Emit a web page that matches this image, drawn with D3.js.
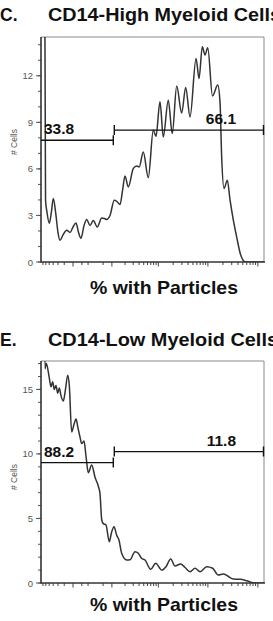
<!DOCTYPE html>
<html>
<head>
<meta charset="utf-8">
<script src="https://cdn.jsdelivr.net/npm/d3@7"></script>
<style>
  body { margin: 0; background: #fff; }
  svg { display: block; font-family: "Liberation Sans", Arial, sans-serif; }
</style>
</head>
<body>
<svg id="chart" width="273" height="621"></svg>
<script>
// Histogram data: display channel (0-256) and # cells
const highChannel = [0, 2.9, 5.2, 6.9, 9.5, 12.1, 14.1, 17.2, 19.5, 21.8, 25.3, 29.5, 33.3, 36.7, 40.2, 43.1, 45.9, 49.4, 52.5, 56.3, 60.0, 64.6, 69.7, 72.9, 75.4, 79.2, 84.1, 87.2, 90.7, 93.6, 96.4, 100.2, 106.0, 109.9, 112.8, 117.4, 123.2, 128.9, 132.0, 136.6, 140.4, 146.1, 150.7, 155.8, 161.5, 166.1, 171.1, 178.0, 181.4, 185.2, 188.3, 191.4, 196.9, 202.9, 205.5, 207.4, 210.1, 213.9, 217.0, 220.8, 225.4, 228.5, 232.2, 235.3, 256];
const highCells   = [40, 40, 4.0, 3.2, 2.5, 3.3, 4.1, 3.0, 1.9, 1.4, 1.75, 2.05, 1.9, 2.25, 2.52, 1.9, 1.53, 2.35, 2.74, 2.35, 2.67, 2.26, 2.84, 2.8, 2.74, 3.0, 3.98, 3.9, 3.7, 4.6, 5.55, 4.84, 6.03, 6.18, 6.13, 7.09, 5.44, 8.5, 8.1, 10.32, 8.06, 10.43, 8.28, 11.34, 9.6, 11.25, 9.35, 13.12, 11.83, 13.87, 13.34, 13.8, 10.7, 11.4, 10.3, 6.77, 4.74, 5.27, 4.0, 2.7, 1.4, 0.6, 0.1, 0, 0];

const lowChannel = [0, 2.9, 4.6, 6.1, 9.5, 11.5, 13.4, 15.3, 17.2, 19.2, 21.0, 23.0, 25.6, 28.1, 30.7, 32.5, 35.2, 37.9, 40.2, 42.5, 44.8, 46.7, 49.4, 51.7, 54.3, 58.2, 62.0, 65.8, 67.7, 69.7, 71.5, 74.6, 78.4, 80.9, 83.8, 86.9, 89.5, 92.6, 98.4, 102.2, 107.9, 111.7, 115.6, 119.4, 125.9, 131.7, 138.6, 143.5, 148.9, 153.8, 160.3, 165.3, 171.1, 176.8, 182.6, 190.2, 197.1, 203.5, 209.3, 214.3, 220.8, 228.5, 236.1, 243.7, 249.1, 256];
const lowCells   = [30, 30, 16.6, 17.0, 15.9, 15.2, 15.6, 15.0, 15.3, 14.7, 15.1, 14.5, 14.1, 15.0, 16.1, 15.3, 11.7, 12.3, 12.7, 12.0, 11.3, 10.8, 11.0, 9.8, 8.55, 9.15, 8.2, 7.5, 6.95, 4.9, 4.6, 4.5, 3.2, 3.9, 4.36, 3.7, 3.33, 2.3, 1.78, 1.8, 2.43, 2.3, 1.9, 1.78, 1.06, 1.53, 1.0, 1.26, 1.86, 1.32, 1.47, 1.2, 0.88, 1.14, 0.88, 1.26, 1.14, 0.62, 0.7, 0.54, 0.31, 0.29, 0.18, 0.02, 0, 0];

// Gate percentages and bar heights (# cells)
const highGates = ["33.8", "66.1"];
const lowGates = ["88.2", "11.8"];
const highGateY = [7.85, 8.5];
const lowGateY = [9.33, 10.18];
const gateSplit = 83; // channel

// Tick values
const highYTicks = [0, 3, 6, 9, 12];
const lowYTicks = [0, 5, 10, 15];
const xTickValues = [-60, -50, -40, -30, -20, -10, 0, 10, 20, 60,
  100, 200, 300, 400, 500, 600, 700, 800, 900,
  1000, 2000, 3000, 4000, 5000, 6000, 7000, 8000, 9000,
  10000, 20000, 30000, 40000, 50000, 60000, 70000, 80000, 90000, 100000];
const xMajor = [0, 100, 1000, 10000, 100000];

const svg = d3.select("#chart");
const left = 41, right = 264;

const x = d3.scaleLinear().domain([0, 256]).range([left, right]);
// intensity -> channel (logicle-like display)
const chan = d3.scaleSymlog().constant(20).domain([-67.5, 132800]).range([0, 256]);

const panels = [
  { letter: "C.", title: "CD14-High Myeloid Cells", titleY: 21, titleLen: 233,
    top: 37, bottom: 262, yMax: 14.5, yTicks: highYTicks, minorStep: 1,
    ch: highChannel, cells: highCells, gates: highGates, gateY: highGateY,
    ylabY: 142, xlabY: 294 },
  { letter: "E.", title: "CD14-Low Myeloid Cells", titleY: 346, titleLen: 230,
    top: 361, bottom: 583, yMax: 17.2, yTicks: lowYTicks, minorStep: 1,
    ch: lowChannel, cells: lowCells, gates: lowGates, gateY: lowGateY,
    ylabY: 477, xlabY: 611 }
];

panels.forEach((p, i) => {
  const g = svg.append("g");
  const y = d3.scaleLinear().domain([0, p.yMax]).range([p.bottom, p.top]);

  // titles
  g.append("text").attr("x", 0).attr("y", p.titleY)
    .attr("font-size", 17.5).attr("font-weight", "bold").attr("fill", "#111")
    .text(p.letter);
  g.append("text").attr("x", 48).attr("y", p.titleY)
    .attr("font-size", 17.5).attr("font-weight", "bold").attr("fill", "#111")
    .attr("textLength", p.titleLen).attr("lengthAdjust", "spacingAndGlyphs")
    .text(p.title);

  // frame
  g.append("path")
    .attr("d", `M${left},${p.top}H${right}V${p.bottom}`)
    .attr("fill", "none").attr("stroke", "#8a8a8a").attr("stroke-width", 1);

  // curve
  const clipId = "clip" + i;
  svg.append("clipPath").attr("id", clipId)
    .append("rect").attr("x", left).attr("y", p.top)
    .attr("width", right - left).attr("height", p.bottom - p.top);

  const line = d3.line()
    .x((d, j) => x(p.ch[j]))
    .y(d => y(d))
    .curve(d3.curveMonotoneX);

  g.append("path")
    .datum(p.cells)
    .attr("clip-path", `url(#${clipId})`)
    .attr("d", line)
    .attr("fill", "none")
    .attr("stroke", "#333")
    .attr("stroke-width", 1.5);

  // y axis
  const minor = d3.range(0, p.yMax, p.minorStep);
  g.selectAll(".ym").data(minor).enter().append("line")
    .attr("x1", left - 3).attr("x2", left)
    .attr("y1", d => y(d)).attr("y2", d => y(d))
    .attr("stroke", "#555").attr("stroke-width", 1);
  g.selectAll(".yt").data(p.yTicks).enter().append("line")
    .attr("x1", left - 5).attr("x2", left)
    .attr("y1", d => y(d)).attr("y2", d => y(d))
    .attr("stroke", "#555").attr("stroke-width", 1);
  g.selectAll(".yl").data(p.yTicks).enter().append("text")
    .attr("x", left - 8).attr("y", d => y(d) + 3.5)
    .attr("text-anchor", "end").attr("font-size", 9.5).attr("fill", "#555")
    .text(d => d);
  g.append("line").attr("x1", left).attr("x2", left)
    .attr("y1", p.top).attr("y2", p.bottom + 0.5)
    .attr("stroke", "#333").attr("stroke-width", 1.6);

  g.append("text")
    .attr("transform", `translate(17,${p.ylabY}) rotate(-90)`)
    .attr("text-anchor", "middle").attr("font-size", 8.5).attr("fill", "#555")
    .text("# Cells");

  // x axis
  g.selectAll(".xt").data(xTickValues).enter().append("line")
    .attr("x1", d => x(chan(d))).attr("x2", d => x(chan(d)))
    .attr("y1", p.bottom).attr("y2", d => p.bottom + (xMajor.includes(d) ? 4.5 : 3))
    .attr("stroke", "#444").attr("stroke-width", 1);
  g.append("line").attr("x1", left).attr("x2", right + 1)
    .attr("y1", p.bottom).attr("y2", p.bottom)
    .attr("stroke", "#333").attr("stroke-width", 1.4);

  g.append("text").attr("x", 90).attr("y", p.xlabY)
    .attr("font-size", 19).attr("font-weight", "bold").attr("fill", "#111")
    .attr("textLength", 148).attr("lengthAdjust", "spacingAndGlyphs")
    .text("% with Particles");

  // gates
  const gy0 = y(p.gateY[0]), gy1 = y(p.gateY[1]);
  const xs = x(gateSplit), xe = x(256);
  g.append("path")
    .attr("d", `M${left},${gy0}H${xs}M${xs},${gy0 - 5}V${gy0 + 5}` +
               `M${xs + 1},${gy1}H${xe - 0.5}M${xs + 1},${gy1 - 5}V${gy1 + 5}` +
               `M${xe - 0.5},${gy1 - 5}V${gy1 + 5}`)
    .attr("fill", "none").attr("stroke", "#111").attr("stroke-width", 1.4);
  g.append("text").attr("x", left + 3).attr("y", gy0 - 6)
    .attr("font-size", 15.5).attr("font-weight", "bold").attr("fill", "#111")
    .text(p.gates[0]);
  g.append("text").attr("x", xe - 28).attr("y", gy1 - 6)
    .attr("text-anchor", "end")
    .attr("font-size", 15.5).attr("font-weight", "bold").attr("fill", "#111")
    .text(p.gates[1]);
});
</script>
</body>
</html>
